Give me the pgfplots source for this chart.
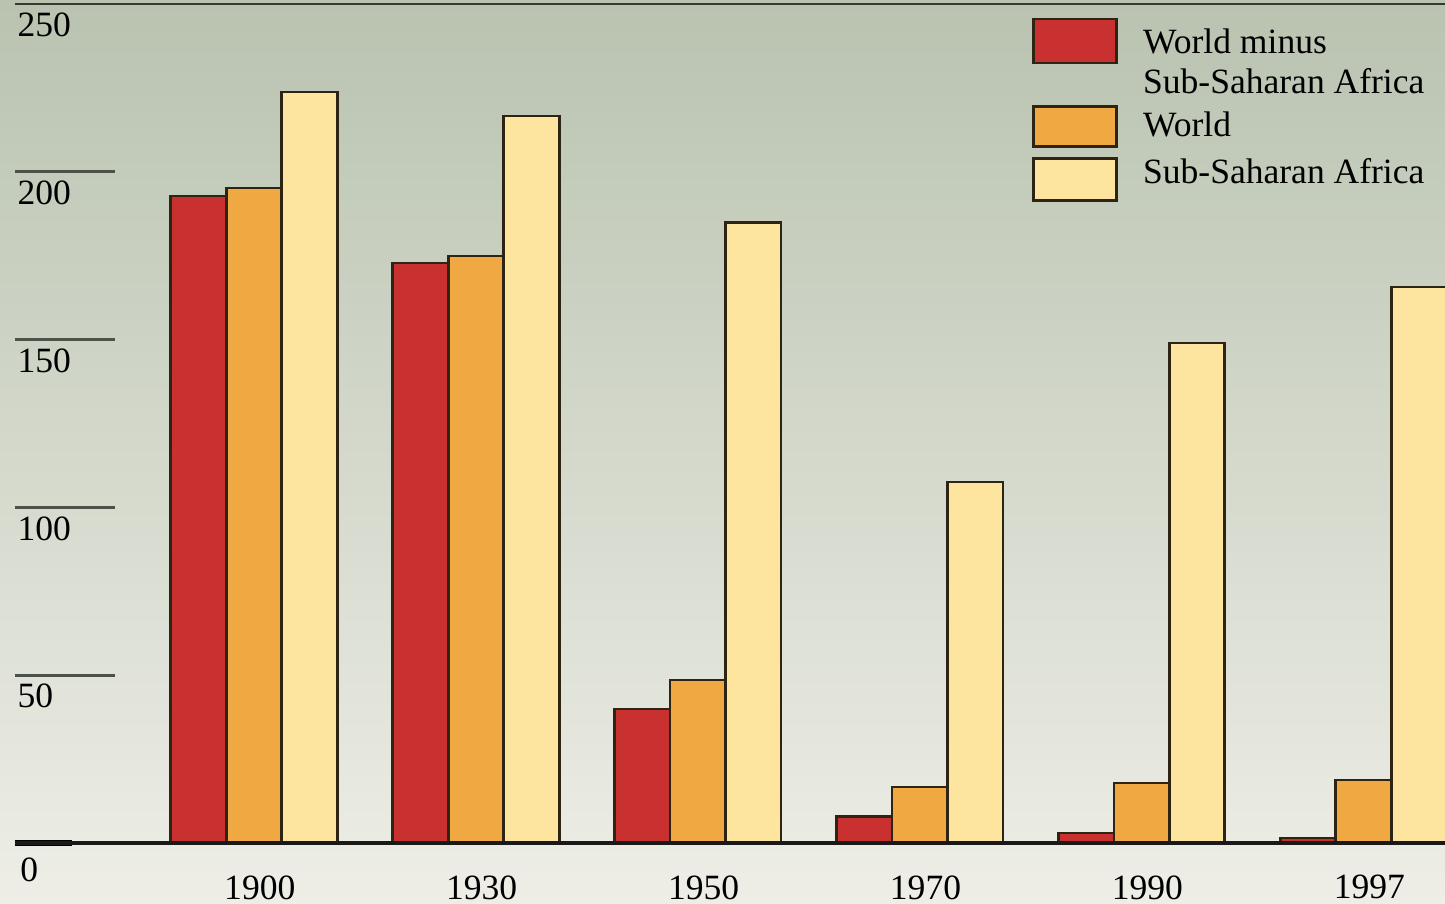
\documentclass[border=0pt]{standalone}
\usepackage{fontspec}
\setmainfont{Liberation Serif}
\usepackage{pgfplots}
\pgfplotsset{compat=1.18}

\definecolor{barred}{HTML}{C8312F}
\definecolor{barorange}{HTML}{F0A843}
\definecolor{barlight}{HTML}{FDE5A0}
\definecolor{outline}{HTML}{2E2414}
\definecolor{bgtop}{HTML}{B9C3B0}
\definecolor{bgmid}{HTML}{D5D8CA}
\definecolor{bgbot}{HTML}{EEEEE7}
\definecolor{tickgray}{HTML}{4C5248}

% legend swatch: #1 = bottom, #2 = top, #3 = top of the cell (relative to text baseline)
\pgfplotsset{
  swatch/.style n args={3}{legend image code/.code={%
    \path[draw=none, fill=none] (0pt,#1) -- (0pt,#3);
    \draw[##1] (0pt,#1) rectangle (28.7pt,#2);}},
  bars/.style={ybar, bar width=0.25, draw=outline, line width=0.95pt},
}

\begin{document}
\begin{tikzpicture}
\useasboundingbox (0pt,0pt) rectangle (500pt,312.8pt);
\shade[top color=bgtop, middle color=bgmid, bottom color=bgbot] (0pt,0pt) rectangle (500pt,312.8pt);
\begin{axis}[
  at={(5.19pt,21.1pt)}, anchor=south west,
  scale only axis, width=494.8pt, height=290.3pt,
  xmin=-1.077, xmax=5.367, ymin=0, ymax=250,
  clip=false,
  axis line style={draw=none},
  font=\fontsize{12.3}{14.5}\selectfont,
  /pgf/number format/assume math mode=true,
  xtick={0,...,5},
  xticklabels={1900,1930,1950,1970,1990,1997},
  xtick style={draw=none},
  xticklabel style={anchor=north, inner sep=0pt, yshift=-11pt, xshift=2pt},
  ytick={50,100,150,200,250},
  ytick pos=left, tick align=inside, major tick length=34.6pt,
  ytick style={line width=1pt, color=tickgray},
  yticklabel style={anchor=north west, inner sep=0pt, xshift=0.7pt, yshift=-2.9pt},
  extra y ticks={0},
  extra y tick style={major tick length=19.7pt, ytick style={line width=2pt, color=black},
    yticklabel style={yshift=-2.2pt, xshift=1pt}},
  legend style={at={(0.711,0.9845)}, anchor=north west, draw=none, fill=none,
    inner sep=0pt, row sep=0pt, column sep=8.7pt,
    cells={anchor=base west},
    nodes={inner sep=0pt}},
]
\addplot[bars, bar shift=-0.25, fill=barred, swatch={-3.1pt}{12.1pt}{12.1pt}] coordinates {
  (0,192.8) (1,172.8) (2,39.9) (3,8.0) (4,3.0) (5,1.5)};
\addlegendentry{\rule[-3.1pt]{0pt}{12pt}World minus}
\addlegendimage{empty legend}
\addlegendentry{\rule[-2pt]{0pt}{12.2pt}Sub-Saharan Africa}
\addplot[bars, bar shift=0, fill=barorange, swatch={-3.5pt}{10.4pt}{13.2pt}] coordinates {
  (0,195.2) (1,174.9) (2,48.6) (3,16.7) (4,17.9) (5,18.8)};
\addlegendentry{\rule[-3.5pt]{0pt}{13.9pt}World}
\addplot[bars, bar shift=0.25, fill=barlight, swatch={-5.9pt}{8.7pt}{12.3pt}] coordinates {
  (0,223.8) (1,216.6) (2,185.0) (3,107.6) (4,149.0) (5,165.7)};
\addlegendentry{\rule[-5.9pt]{0pt}{18.2pt}Sub-Saharan Africa}
\draw[line width=1pt, color=tickgray!70!black] (rel axis cs:0,1) -- (rel axis cs:1,1);
\draw[line width=1.3pt, color=black!90] (rel axis cs:0,0) -- (rel axis cs:1,0);
\end{axis}
\end{tikzpicture}
\end{document}
